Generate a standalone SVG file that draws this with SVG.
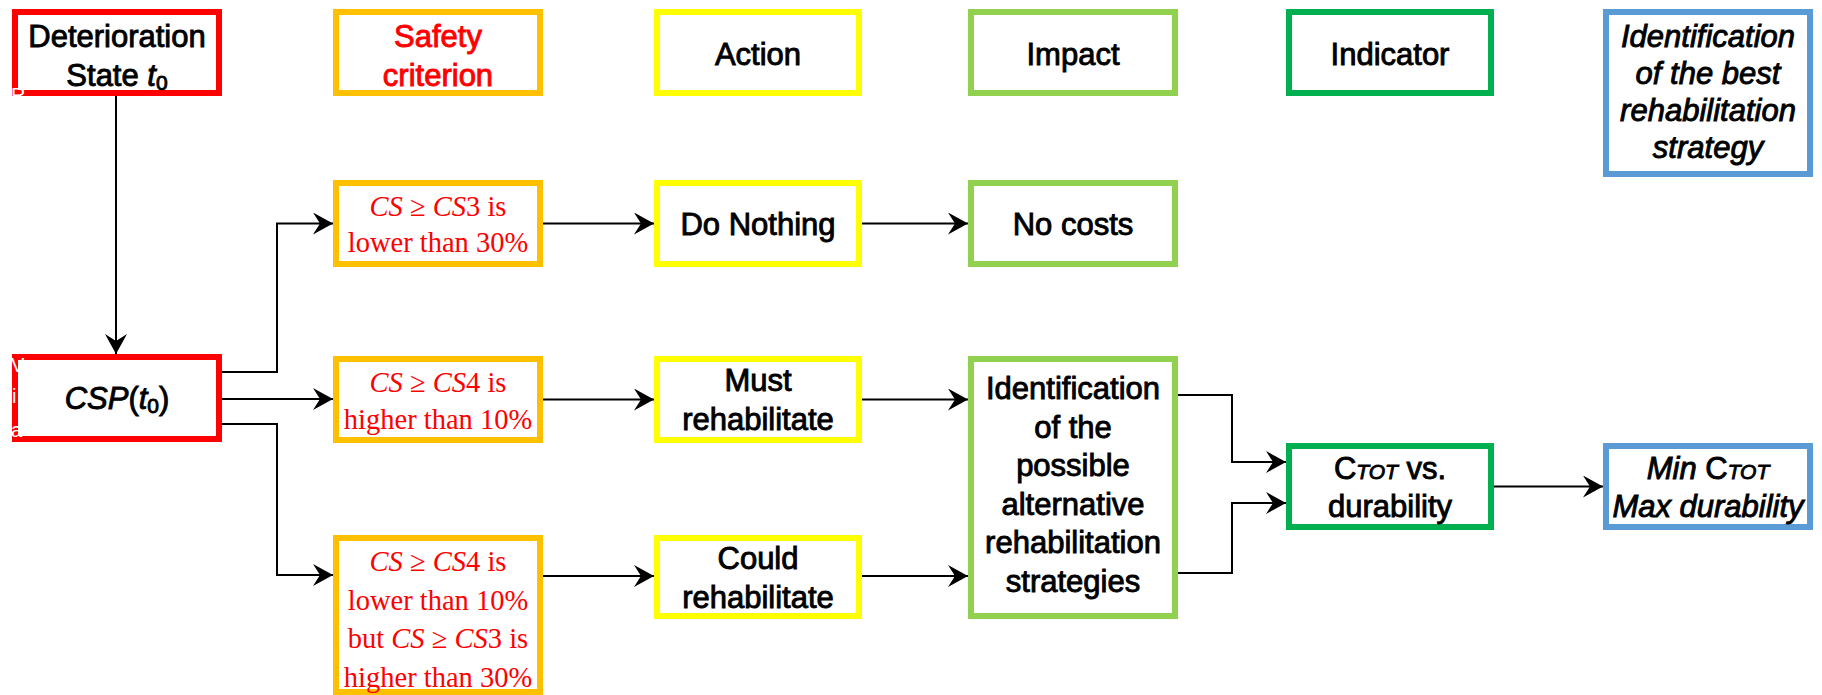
<svg xmlns="http://www.w3.org/2000/svg" width="1822" height="695" viewBox="0 0 1822 695">
<style>
.box{fill:#fff;stroke-width:6}
.red{stroke:#FF0000}.org{stroke:#FFC000}.yel{stroke:#FFFF00}.lgr{stroke:#92D050}.grn{stroke:#00B050}.blu{stroke:#5B9BD5}
.t{font-family:"Liberation Sans",Arial,sans-serif;font-size:31px;fill:#000;stroke:#000;stroke-width:0.9;text-anchor:middle}
.tr{fill:#FF0000;stroke:#FF0000}
.s{font-family:"Liberation Serif","Times New Roman",serif;font-size:28.5px;fill:#FF0000;text-anchor:middle}
.i{font-style:italic}
.w{font-family:"Liberation Sans",Arial,sans-serif;font-size:20px;fill:#fff}
.conn path{fill:none;stroke:#000;stroke-width:2}
</style>
<defs>
<marker id="ah" markerUnits="userSpaceOnUse" markerWidth="20" markerHeight="22" viewBox="0 0 20 22" refX="20" refY="11" orient="auto">
<path d="M0,0 L20,11 L0,22 L7,11 Z" fill="#000"/>
</marker>
</defs>

<g id="n-deterioration">
<rect class="box red" x="15" y="12" width="204" height="81"/>
<text class="t" x="117" y="47">Deterioration</text>
<text class="t" x="117" y="86">State <tspan class="i">t</tspan><tspan font-size="21" dy="4">0</tspan></text>
<text class="w" x="11" y="102">R</text>
</g>
<g id="n-safety-header">
<rect class="box org" x="336" y="12" width="204" height="81"/>
<text class="t tr" x="438" y="47">Safety</text>
<text class="t tr" x="438" y="86">criterion</text>
</g>
<g id="n-action-header">
<rect class="box yel" x="657" y="12" width="202" height="81"/>
<text class="t" x="758" y="65">Action</text>
</g>
<g id="n-impact-header">
<rect class="box lgr" x="971" y="12" width="204" height="81"/>
<text class="t" x="1073" y="65">Impact</text>
</g>
<g id="n-indicator-header">
<rect class="box grn" x="1289" y="12" width="202" height="81"/>
<text class="t" x="1390" y="65">Indicator</text>
</g>
<g id="n-best-header">
<rect class="box blu" x="1606" y="12" width="204" height="162"/>
<text class="t i" x="1708" y="47">Identification</text>
<text class="t i" x="1708" y="84">of the best</text>
<text class="t i" x="1708" y="121">rehabilitation</text>
<text class="t i" x="1708" y="158">strategy</text>
</g>

<g id="n-cs3-lower">
<rect class="box org" x="336" y="183" width="204" height="81"/>
<text class="s" x="438" y="216"><tspan class="i">CS</tspan> ≥ <tspan class="i">CS</tspan>3 is</text>
<text class="s" x="438" y="252">lower than 30%</text>
</g>
<g id="n-do-nothing">
<rect class="box yel" x="657" y="183" width="202" height="81"/>
<text class="t" x="758" y="235">Do Nothing</text>
</g>
<g id="n-no-costs">
<rect class="box lgr" x="971" y="183" width="204" height="81"/>
<text class="t" x="1073" y="235">No costs</text>
</g>

<g id="n-csp">
<rect class="box red" x="15" y="357" width="204" height="82"/>
<text class="t" x="117" y="409"><tspan class="i">CSP</tspan>(<tspan class="i">t</tspan><tspan font-size="21" dy="4">0</tspan><tspan dy="-4">)</tspan></text>
<text class="w" x="11" y="372">V</text>
<text class="w" x="12" y="403">i</text>
<text class="w" x="11" y="437">a</text>
</g>
<g id="n-cs4-higher">
<rect class="box org" x="336" y="359" width="204" height="81"/>
<text class="s" x="438" y="392"><tspan class="i">CS</tspan> ≥ <tspan class="i">CS</tspan>4 is</text>
<text class="s" x="438" y="429">higher than 10%</text>
</g>
<g id="n-must">
<rect class="box yel" x="657" y="359" width="202" height="81"/>
<text class="t" x="758" y="391">Must</text>
<text class="t" x="758" y="430">rehabilitate</text>
</g>
<g id="n-alternatives">
<rect class="box lgr" x="971" y="359" width="204" height="257"/>
<text class="t" x="1073" y="399">Identification</text>
<text class="t" x="1073" y="437.5">of the</text>
<text class="t" x="1073" y="476">possible</text>
<text class="t" x="1073" y="514.5">alternative</text>
<text class="t" x="1073" y="553">rehabilitation</text>
<text class="t" x="1073" y="591.5">strategies</text>
</g>
<g id="n-ctot">
<rect class="box grn" x="1289" y="446" width="202" height="81"/>
<text class="t" x="1390" y="479">C<tspan class="i" font-size="21">TOT</tspan> vs.</text>
<text class="t" x="1390" y="517">durability</text>
</g>
<g id="n-min">
<rect class="box blu" x="1606" y="446" width="204" height="81"/>
<text class="t" x="1708" y="479"><tspan class="i">Min</tspan> C<tspan class="i" font-size="21">TOT</tspan></text>
<text class="t i" x="1708" y="517">Max durability</text>
</g>

<g id="n-cs4-lower">
<rect class="box org" x="336" y="538" width="204" height="154"/>
<text class="s" x="438" y="571"><tspan class="i">CS</tspan> ≥ <tspan class="i">CS</tspan>4 is</text>
<text class="s" x="438" y="609.5">lower than 10%</text>
<text class="s" x="438" y="648">but <tspan class="i">CS</tspan> ≥ <tspan class="i">CS</tspan>3 is</text>
<text class="s" x="438" y="686.5">higher than 30%</text>
</g>
<g id="n-could">
<rect class="box yel" x="657" y="538" width="202" height="78"/>
<text class="t" x="758" y="568.5">Could</text>
<text class="t" x="758" y="607.5">rehabilitate</text>
</g>

<g id="connectors" class="conn">
<path d="M116,96 L116,354" marker-end="url(#ah)"/>
<path d="M222,372 L277,372 L277,223.5 L333,223.5" marker-end="url(#ah)"/>
<path d="M222,399 L333,399" marker-end="url(#ah)"/>
<path d="M222,424 L277,424 L277,575 L333,575" marker-end="url(#ah)"/>
<path d="M543,223.5 L654,223.5" marker-end="url(#ah)"/>
<path d="M862,223.5 L968,223.5" marker-end="url(#ah)"/>
<path d="M543,399.5 L654,399.5" marker-end="url(#ah)"/>
<path d="M862,399.5 L968,399.5" marker-end="url(#ah)"/>
<path d="M543,576 L654,576" marker-end="url(#ah)"/>
<path d="M862,576 L968,576" marker-end="url(#ah)"/>
<path d="M1178,395 L1232,395 L1232,462 L1286,462" marker-end="url(#ah)"/>
<path d="M1178,573 L1232,573 L1232,503 L1286,503" marker-end="url(#ah)"/>
<path d="M1494,486.5 L1603,486.5" marker-end="url(#ah)"/>
</g>
</svg>
